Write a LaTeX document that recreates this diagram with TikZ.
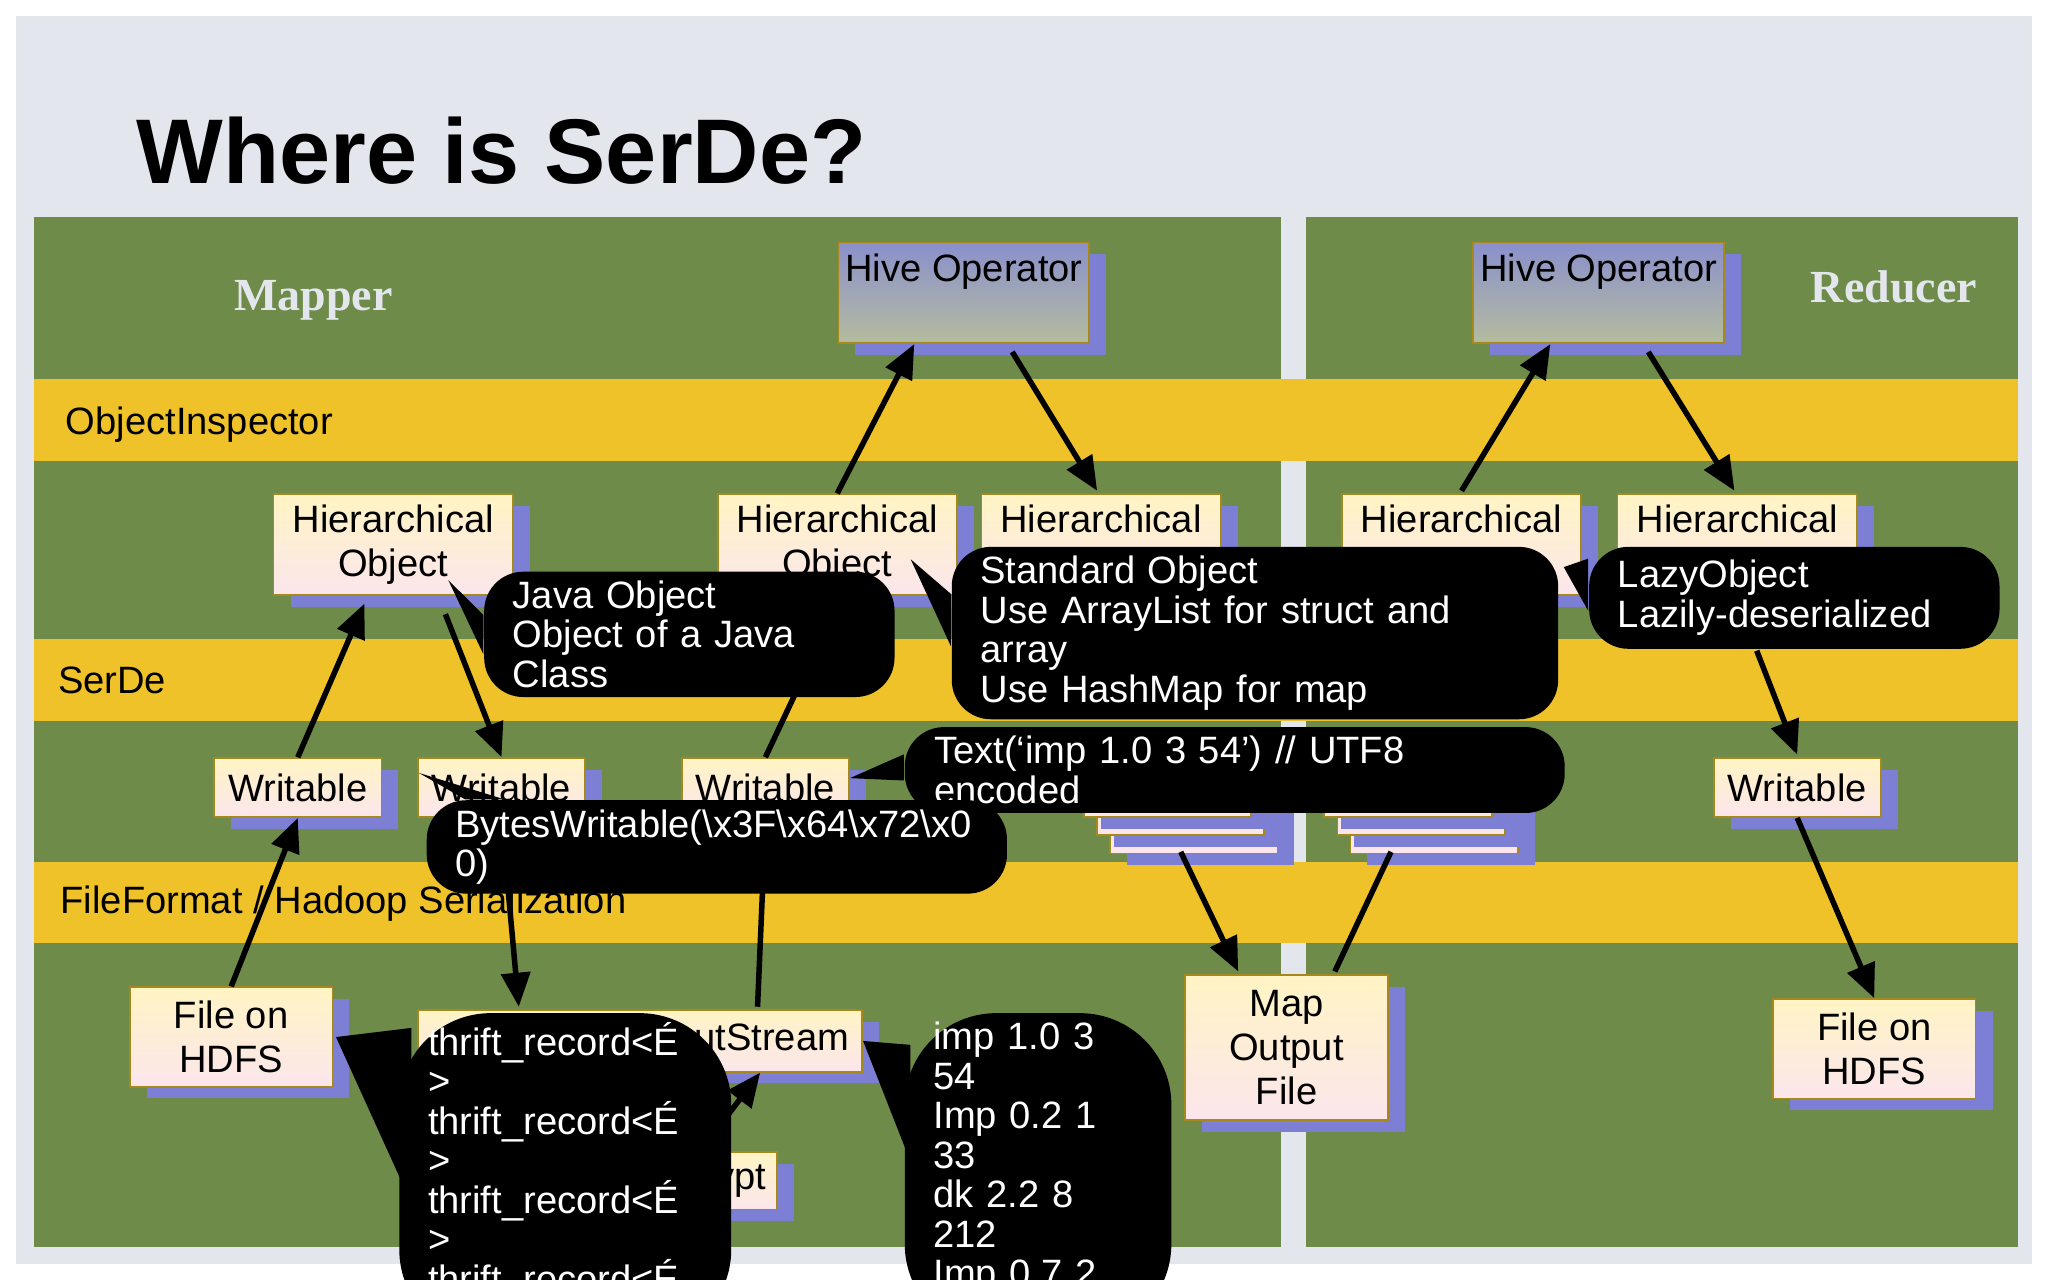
\documentclass[tikz,border=0pt]{standalone}
\usepackage{fontspec}
\setmainfont{Liberation Sans}
\newfontfamily\serifbold{Liberation Serif}
\usetikzlibrary{positioning,calc,shadows,arrows.meta}
\definecolor{bgblue}{HTML}{E4E6EE}
\definecolor{panel}{HTML}{6F8B4A}
\definecolor{band}{HTML}{EFC22A}
\definecolor{shade}{HTML}{7C7FD4}
\definecolor{boxtop}{HTML}{FFF4C4}
\definecolor{boxbot}{HTML}{FBE6EC}
\definecolor{optop}{HTML}{8A90CC}
\definecolor{opbot}{HTML}{B4BC9E}
\tikzset{
  box/.style={draw=band!70!black, thin, top color=boxtop, bottom color=boxbot,
    drop shadow={shadow xshift=1.3mm, shadow yshift=-0.9mm, fill=shade, opacity=1},
    align=center, inner sep=1pt, font=\fontsize{8.3}{9.5}\selectfont},
  opbox/.style={box, top color=optop, bottom color=opbot},
  hobox/.style={box, minimum width=1.83cm, minimum height=0.77cm},
  wrbox/.style={box, minimum width=1.28cm, minimum height=0.45cm},
  callout/.style={fill=black, rounded corners=3mm, text=white, align=left,
    inner xsep=0.22cm, inner ysep=2pt, font=\fontsize{8.3}{8.6}\selectfont},
  bandlbl/.style={anchor=west, font=\fontsize{8.3}{9}\selectfont},
  flow/.style={-{Triangle[length=2.6mm,width=2.2mm]}, line width=1.2pt},
  plain/.style={line width=1.2pt}
}
\begin{document}
\begin{tikzpicture}[x=0.01cm,y=-0.01cm]
  \useasboundingbox (0,0) rectangle (1568,980);
  %Background
  \fill[white] (0,0) rectangle (1568,980);
  \fill[bgblue] (12,12) rectangle (1556,968);
  \fill[panel] (26,166) rectangle (981,955);
  \fill[panel] (1000,166) rectangle (1545,955);
  \foreach \yt/\yb in {290/353, 489/552, 660/722}
    \fill[band] (26,\yt) rectangle (1545,\yb);
  \node[anchor=west, font=\fontsize{20}{22}\selectfont\bfseries] (title) at (92,115) {Where is SerDe?};
  \node[font=\fontsize{10}{11}\serifbold\bfseries, text=bgblue] (mapper) at (240,230) {Mapper};
  \node[font=\fontsize{10}{11}\serifbold\bfseries, text=bgblue] (reducer) at (1450,220) {Reducer};
  \node[bandlbl] (oi) at (38,325) {ObjectInspector};
  \node[bandlbl] (sd) at (32,521) {SerDe};
  \node[bandlbl] (ff) at (34,692) {FileFormat  / Hadoop Serialization};

  %Boxes
  \node[opbox, minimum width=1.92cm, minimum height=0.77cm, anchor=north, text depth=0.38cm] (op1) at (738,185) {Hive Operator};
  \node[opbox, minimum width=1.92cm, minimum height=0.77cm, anchor=north, text depth=0.38cm] (op2) at (1224,185) {Hive Operator};
  \node[hobox] (ho1) at (301,417) {Hierarchical\\Object};
  \node[hobox] (ho2) at (641,417) {Hierarchical\\Object};
  \node[hobox] (ho3) at (843,417) {Hierarchical\\Object};
  \node[hobox] (ho4) at (1119,417) {Hierarchical\\Object};
  \node[hobox] (ho5) at (1330,417) {Hierarchical\\Object};
  \node[wrbox] (wr1) at (228,603) {Writable};
  \node[wrbox] (wr2) at (384,603) {Writable};
  \node[wrbox] (wr3) at (586,603) {Writable};
  \node[wrbox] (wr4b) at (914,631) {Writable};
  \node[wrbox] (wr4a) at (904,617) {Writable};
  \node[wrbox] (wr4) at (894,603) {Writable};
  \node[wrbox] (wr5b) at (1098,631) {Writable};
  \node[wrbox] (wr5a) at (1088,617) {Writable};
  \node[wrbox] (wr5) at (1078,603) {Writable};
  \node[wrbox] (wr6) at (1376,603) {Writable};
  \node[box, minimum width=1.55cm, minimum height=0.76cm] (fh1) at (177,794) {File on\\HDFS};
  \node[box, minimum width=1.92cm, minimum height=0.44cm, text width=1.75cm, align=right] (dec) at (499,904) {Decrypt};
  \node[box, minimum width=3.4cm, minimum height=0.47cm, text width=3.2cm, align=right] (st) at (490,797) {FileInputStream};
  \node[box, minimum width=1.55cm, minimum height=1.11cm] (mo) at (985,802) {Map\\Output\\File};
  \node[box, minimum width=1.55cm, minimum height=0.76cm] (fh2) at (1435,803) {File on\\HDFS};

  %Arrows
  \draw[flow] (wr1.north) -- ($(ho1.south)+(-22,6)$);
  \draw[flow] ($(ho1.south)+(40,14)$) -- (wr2.north);
  \draw[flow] (fh1.north) -- (wr1.south);
  \draw[flow] (wr2.south) -- ($(st.north west)+(78,-2)$);
  \draw[flow] (ho2.north) -- ($(op1.south)+(-38,0)$);
  \draw[flow] ($(op1.south)+(37,6)$) -- ($(ho3.north)+(-3,-2)$);
  \draw[flow] ($(ho4.north)+(0,-2)$) -- ($(op2.south)+(-37,0)$);
  \draw[flow] ($(op2.south)+(38,6)$) -- ($(ho5.north)+(-2,-2)$);
  \draw[flow] ($(ho5.south)+(15,42)$) -- ($(wr6.north)+(0,-2)$);
  \draw[flow] (wr6.south) -- (fh2.north);
  \draw[flow] ($(wr4.south)+(10,26)$) -- ($(mo.north)+(-37,-2)$);
  \draw[plain] ($(mo.north)+(37,-2)$) -- ($(wr5.south)+(-13,26)$);
  \draw[plain] ($(st.north)+(90,-2)$) -- ($(wr3.south)+(0,4)$);
  \draw[plain] (wr3.north) -- ($(ho2.south)+(-26,62)$);
  \draw[flow] ($(dec.north)+(54,-22)$) -- ($(st.south)+(92,0)$);
  \draw[plain] ($(ho4.south)+(-33,60)$) -- ($(ho4.south)+(-22,25)$);

  %Callouts
  \node[callout, minimum width=3.12cm, minimum height=0.8cm, text width=2.7cm, anchor=north west] (cjava) at (370,437) {Java Object\\Object of a Java\\Class};
  \fill ($(cjava.west)+(0,-15)$) -- ($(ho1.south east)+(-50,-12)$) -- ($(cjava.west)+(0,15)$) -- cycle;
  \node[callout, minimum width=4.6cm, minimum height=1.06cm, text width=4.2cm, anchor=north west] (cstd) at (728,418) {Standard Object\\Use ArrayList for struct and\\array\\Use HashMap for map};
  \fill ($(cstd.west)+(0,-30)$) -- ($(ho2.south east)+(-36,-28)$) -- ($(cstd.west)+(0,10)$) -- cycle;
  \node[callout, minimum width=3.12cm, minimum height=0.78cm, text width=2.7cm, anchor=north west] (clazy) at (1216,418) {LazyObject\\Lazily-deserialized\\ };
  \fill ($(clazy.west)+(0,-30)$) -- ($(ho4.south east)+(-14,-22)$) -- ($(clazy.west)+(0,10)$) -- cycle;
  \node[callout, minimum width=5.05cm, minimum height=0.42cm, text width=4.6cm, anchor=north west] (ctext) at (692,556) {Text(`imp 1.0 3 54’) // UTF8\\encoded};
  \fill ($(ctext.west)+(0,-12)$) -- ($(wr3.north east)+(0,16)$) -- ($(ctext.west)+(0,8)$) -- cycle;
  \node[callout, minimum width=4.39cm, minimum height=0.42cm, text width=4.0cm, anchor=north west] (cbytes) at (326,612) {BytesWritable(\textbackslash x3F\textbackslash x64\textbackslash x72\textbackslash x0\\0)};
  \fill ($(cbytes.north west)+(30,0)$) -- ($(wr1.north east)+(28,12)$) -- ($(cbytes.north west)+(60,0)$) -- cycle;
  \node[callout, minimum width=2.48cm, minimum height=1.45cm, text width=2.1cm, anchor=north west, rounded corners=7mm] (cthrift) at (305,775) {thrift\_record<É >\\thrift\_record<É >\\thrift\_record<É >\\thrift\_record<É >};
  \fill ($(cthrift.north west)+(10,12)$) -- ($(fh1.east)+(2,0)$) -- ($(cthrift.west)+(10,20)$) -- cycle;
  \node[callout, minimum width=2.01cm, minimum height=1.45cm, text width=1.6cm, anchor=north west, rounded corners=7mm] (cimp) at (692,775) {imp 1.0 3 54\\Imp 0.2 1 33\\dk 2.2 8 212\\Imp 0.7 2 22};
  \fill ($(cimp.north west)+(5,25)$) -- ($(st.east)+(0,0)$) -- ($(cimp.west)+(5,-10)$) -- cycle;
\end{tikzpicture}
\end{document}
